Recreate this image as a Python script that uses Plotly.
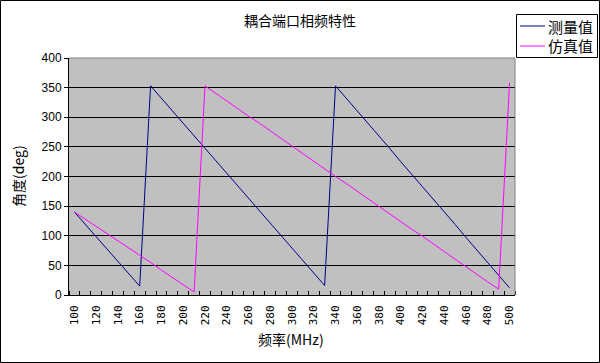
import plotly.graph_objects as go

# ---- data ----
freqs = [100, 110, 120, 130, 140, 150, 160, 170, 180, 190, 200,
         210, 220, 230, 240, 250, 260, 270, 280, 290, 300,
         310, 320, 330, 340, 350, 360, 370, 380, 390, 400,
         410, 420, 430, 440, 450, 460, 470, 480, 490, 500]

measured = [140, 119, 98, 77, 57, 36, 15, 353, 332, 311, 290,
            269, 248, 227, 206, 185, 164, 142, 121, 100, 79,
            58, 37, 16, 353, 332, 311, 289, 268, 247, 225,
            204, 183, 161, 140, 119, 97, 76, 55, 33, 12]

simulated = [140, 128, 116, 103, 91, 79, 67, 55, 42, 30, 18,
             5, 353, 340, 328, 315, 302, 290, 277, 264, 251,
             239, 226, 213, 200, 188, 175, 162, 150, 137, 124,
             111, 99, 86, 73, 61, 48, 35, 22, 10, 358]

series_names = ["测量值", "仿真值"]
series_colors = ["#000080", "#FF00FF"]
title_text = "耦合端口相频特性"
x_title = "频率(MHz)"
y_title = "角度(deg)"
y_ticks = [0, 50, 100, 150, 200, 250, 300, 350, 400]
x_labels = freqs[::2]

# ---- layout geometry ----
W, H = 600, 363
L, R, T, B = 69, 85, 58, 68
PW, PH = W - L - R, H - T - B

def px_x(p):
    return (p - L) / PW

def px_y(p):
    return (H - B - p) / PH

cjk = "Noto Sans CJK SC"

fig = go.Figure()
for name, vals, col in zip(series_names, [measured, simulated], series_colors):
    fig.add_trace(go.Scatter(x=freqs, y=vals, mode="lines", name=name,
                             line=dict(color=col, width=1), showlegend=False))

# legend drawn as box + line samples + text
legend_shapes = [
    dict(type="rect", xref="paper", yref="paper",
         x0=px_x(516.5), x1=px_x(597.5), y0=px_y(57.5), y1=px_y(14.5),
         line=dict(color="black", width=1), fillcolor="white", layer="above"),
]
legend_ann = []
row_y = [26, 46]
for name, col, ry in zip(series_names, series_colors, row_y):
    legend_shapes.append(dict(type="line", xref="paper", yref="paper",
                              x0=px_x(520), x1=px_x(545), y0=px_y(ry), y1=px_y(ry),
                              line=dict(color=col, width=1), layer="above"))
    legend_ann.append(dict(text=name, x=px_x(546), y=px_y(ry), xref="paper", yref="paper",
                           showarrow=False, xanchor="left", yanchor="middle",
                           font=dict(family=cjk, size=15, color="black")))

step = freqs[1] - freqs[0]
fig.update_layout(
    width=W, height=H,
    margin=dict(l=L, r=R, t=T, b=B, pad=0, autoexpand=False),
    paper_bgcolor="white",
    plot_bgcolor="#C0C0C0",
    title=dict(text=title_text, x=0.5, xref="container", xanchor="center",
               y=1 - 21 / H, yref="container", yanchor="middle",
               font=dict(family=cjk, size=14, color="black")),
    showlegend=False,
    xaxis=dict(
        range=[freqs[0] - step / 2, freqs[-1] + step / 2],
        tickmode="array", tickvals=x_labels, ticktext=[str(v) for v in x_labels],
        tickangle=-90, ticks="", ticklabelstandoff=5,
        tickfont=dict(family="DejaVu Sans Mono", size=11, color="black"),
        showgrid=False, zeroline=False,
        showline=True, linecolor="black", linewidth=1,
        minor=dict(tickmode="linear", tick0=freqs[0] - step / 2, dtick=step,
                   ticks="inside", ticklen=4, tickcolor="black", tickwidth=1,
                   showgrid=False),
    ),
    yaxis=dict(
        range=[0, 400], tickmode="array", tickvals=y_ticks,
        ticks="outside", ticklen=4, tickcolor="black",
        tickfont=dict(family="Liberation Sans", size=12, color="black"),
        showgrid=True, gridcolor="black", gridwidth=1, zeroline=False,
        showline=True, linecolor="black", linewidth=1,
    ),
    annotations=[
        dict(text=x_title, x=px_x(291), y=px_y(339), xref="paper", yref="paper",
             showarrow=False, xanchor="center", yanchor="middle",
             font=dict(family=cjk, size=14, color="black")),
        dict(text=y_title, x=px_x(18), y=px_y(176), xref="paper", yref="paper",
             showarrow=False, xanchor="center", yanchor="middle", textangle=-90,
             font=dict(family=cjk, size=14, color="black")),
    ] + legend_ann,
    shapes=[
        dict(type="line", xref="paper", yref="paper", x0=0, x1=1, y0=1, y1=1,
             line=dict(color="#808080", width=1), layer="above"),
        dict(type="line", xref="paper", yref="paper", x0=1, x1=1, y0=0, y1=1,
             line=dict(color="#808080", width=1), layer="above"),
        dict(type="rect", xref="paper", yref="paper",
             x0=px_x(0.5), x1=px_x(W - 0.5), y0=px_y(H - 0.5), y1=px_y(0.5),
             line=dict(color="black", width=1), fillcolor="rgba(0,0,0,0)"),
    ] + legend_shapes,
)

fig.write_html("out.html", config={"displayModeBar": False},
               post_script="document.body.style.margin='0';document.body.style.overflow='hidden';")
